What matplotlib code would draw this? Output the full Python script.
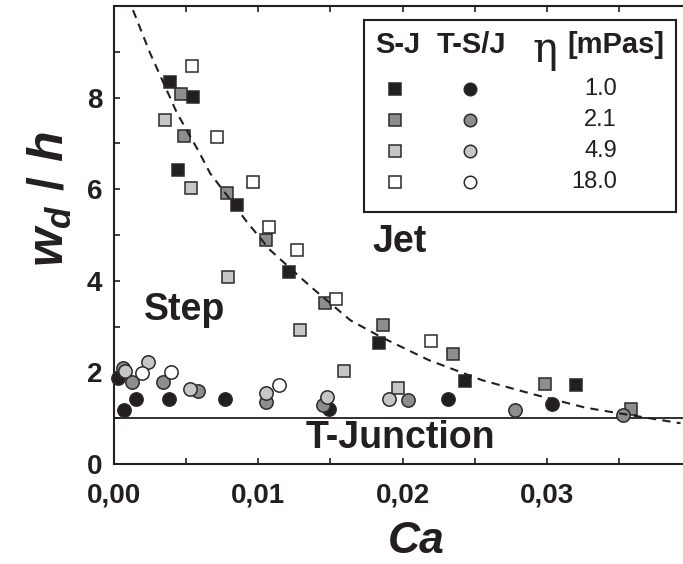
import matplotlib
matplotlib.use('Agg')
import matplotlib.pyplot as plt
from matplotlib import font_manager as fm
from matplotlib.patches import Rectangle
from matplotlib.ticker import MultipleLocator, FuncFormatter

# viscosities (mPas) and their marker fills
VISCOSITIES = ['1.0', '2.1', '4.9', '18.0']
FILLS = ['#231f20', '#8d8d8f', '#c6c6c8', '#ffffff']

# step / jet regime (squares)
SJ_CA = [
    [0.00391, 0.00548, 0.00445, 0.00855, 0.01211, 0.01834, 0.02434, 0.03203],
    [0.00465, 0.00490, 0.00788, 0.01054, 0.01465, 0.01864, 0.02349, 0.02988, 0.03577],
    [0.00359, 0.00537, 0.00795, 0.01292, 0.01596, 0.01965],
    [0.00544, 0.00719, 0.00964, 0.01077, 0.01271, 0.01539, 0.02199],
]
SJ_WD = [
    [8.33, 8.01, 6.43, 5.66, 4.20, 2.64, 1.82, 1.72],
    [8.07, 7.17, 5.92, 4.90, 3.52, 3.03, 2.41, 1.74, 1.19],
    [7.51, 6.02, 4.08, 2.93, 2.04, 1.65],
    [8.69, 7.13, 6.15, 5.17, 4.67, 3.61, 2.69],
]

# T-junction / step transition (circles)
TSJ_CA = [
    [0.00033, 0.00075, 0.00154, 0.00384, 0.00772, 0.01492, 0.02312, 0.03035],
    [0.00064, 0.00130, 0.00345, 0.00587, 0.01056, 0.01449, 0.02037, 0.02780, 0.03524],
    [0.00080, 0.00241, 0.00530, 0.01056, 0.01479, 0.01903],
    [0.00195, 0.00398, 0.01146],
]
TSJ_WD = [
    [1.87, 1.18, 1.42, 1.42, 1.42, 1.19, 1.42, 1.31],
    [2.10, 1.80, 1.78, 1.60, 1.36, 1.29, 1.40, 1.18, 1.07],
    [2.04, 2.23, 1.63, 1.56, 1.47, 1.42],
    [1.99, 2.00, 1.72],
]

# dashed boundary curve
CURVE_CA = [0.00135, 0.00253, 0.00322, 0.00438, 0.00594, 0.00668, 0.00784, 0.00922,
            0.01084, 0.01361, 0.01638, 0.01846, 0.0218, 0.0255, 0.02919, 0.03265,
            0.03473, 0.03923]
CURVE_WD = [9.91, 8.97, 8.49, 7.67, 6.80, 6.35, 5.87, 5.29, 4.67, 3.88, 3.14, 2.78,
            2.27, 1.83, 1.51, 1.23, 1.12, 0.89]

T_JUNCTION_LEVEL = 1.0


def pick_font(name, fallback='Liberation Sans'):
    try:
        fm.findfont(fm.FontProperties(family=name), fallback_to_default=False)
        return name
    except ValueError:
        return fallback


NARROW = pick_font('Liberation Sans Narrow')
SANS = 'Liberation Sans'

plt.rcParams['font.family'] = [NARROW, 'DejaVu Sans']
plt.rcParams['mathtext.fontset'] = 'custom'
plt.rcParams['mathtext.it'] = f'{NARROW}:italic:bold'
plt.rcParams['mathtext.rm'] = f'{NARROW}:bold'
plt.rcParams['mathtext.bf'] = f'{NARROW}:bold'

EDGE = '#2a2a2a'
DARK = '#231f20'

fig = plt.figure(figsize=(6.83, 5.64), dpi=100)
ax = fig.add_axes([113.5 / 683, 1 - 464 / 564, 1 - 113.5 / 683, 458 / 564])

for ca, wd, fill in zip(SJ_CA, SJ_WD, FILLS):
    ax.plot(ca, wd, 's', ms=8.6, mfc=fill, mec=EDGE, mew=1.1, ls='none',
            clip_on=False, zorder=3)
for ca, wd, fill in zip(TSJ_CA, TSJ_WD, FILLS):
    ax.plot(ca, wd, 'o', ms=9.6, mfc=fill, mec=EDGE, mew=1.1, ls='none',
            clip_on=False, zorder=4)

curve, = ax.plot(CURVE_CA, CURVE_WD, color=DARK, lw=1.5, zorder=5)
curve.set_dashes([4, 3])
ax.axhline(T_JUNCTION_LEVEL, color=DARK, lw=1.3, zorder=2)

ax.set_xlim(0, 0.0394)
ax.set_ylim(0, 10)

ax.xaxis.set_major_locator(MultipleLocator(0.005))
ax.xaxis.set_major_formatter(FuncFormatter(
    lambda v, p: ('%.2f' % v).replace('.', ',') if round(v / 0.005) % 2 == 0 else ''))
ax.yaxis.set_major_locator(MultipleLocator(1))
ax.yaxis.set_major_formatter(FuncFormatter(
    lambda v, p: '%d' % v if round(v) % 2 == 0 and v < 9.5 else ''))

ax.tick_params(direction='in', length=4, width=1.2, colors=DARK, labelsize=20,
               top=True, right=False)
ax.tick_params(axis='x', pad=13)
ax.tick_params(axis='y', pad=8)
for lab in ax.get_xticklabels() + ax.get_yticklabels():
    lab.set_fontweight('bold')

for side in ('left', 'bottom', 'top'):
    ax.spines[side].set_linewidth(1.5)
    ax.spines[side].set_color(DARK)
ax.spines['right'].set_visible(False)

ax.set_xlabel('Ca', fontsize=32, fontstyle='italic', fontweight='bold', color=DARK,
              va='baseline')
ax.xaxis.set_label_coords(0.531, -0.194)
ax.set_ylabel(r'$w_d\ /\ h$', fontsize=36, color=DARK, va='center', ha='center')
ax.yaxis.set_label_coords(-0.112, 0.579)

region_kw = dict(transform=ax.transAxes, ha='center', va='center', fontsize=27,
                 fontweight='bold', color=DARK)
ax.text(0.503, 0.485, 'Jet', **region_kw)
ax.text(0.124, 0.336, 'Step', **region_kw)
ax.text(0.503, 0.057, 'T-Junction', **region_kw)

# table-like legend
ax.add_patch(Rectangle((0.4407, 0.5502), 0.9877 - 0.4407, 0.9694 - 0.5502,
                       transform=ax.transAxes, fill=True, fc='white', ec=DARK,
                       lw=1.5, zorder=6, clip_on=False))
head_kw = dict(transform=ax.transAxes, va='center', fontsize=21, fontweight='bold',
               family=SANS, color=DARK, zorder=7)
ax.text(0.4996, 0.9148, 'S-J', ha='center', **head_kw)
ax.text(0.629, 0.9148, 'T-S/J', ha='center', **head_kw)
ax.text(0.882, 0.9148, '[mPas]', ha='center', **head_kw)
ax.text(0.7577, 0.905, '\u03b7', transform=ax.transAxes, ha='center', va='center',
        fontsize=30, family='DejaVu Serif', color=DARK, zorder=7)

row_y = [0.8188, 0.7511, 0.6834, 0.6157]
for fill, label, ry in zip(FILLS, VISCOSITIES, row_y):
    ax.plot([0.4943], [ry], 's', ms=8.0, mfc=fill, mec=EDGE, mew=1.1,
            transform=ax.transAxes, clip_on=False, zorder=7)
    ax.plot([0.626], [ry], 'o', ms=9.0, mfc=fill, mec=EDGE, mew=1.1,
            transform=ax.transAxes, clip_on=False, zorder=7)
    ax.text(0.8841, ry, label, transform=ax.transAxes, ha='right', va='center',
            fontsize=17, family=SANS, color=DARK, zorder=7)

fig.savefig('out.png', dpi=100)
